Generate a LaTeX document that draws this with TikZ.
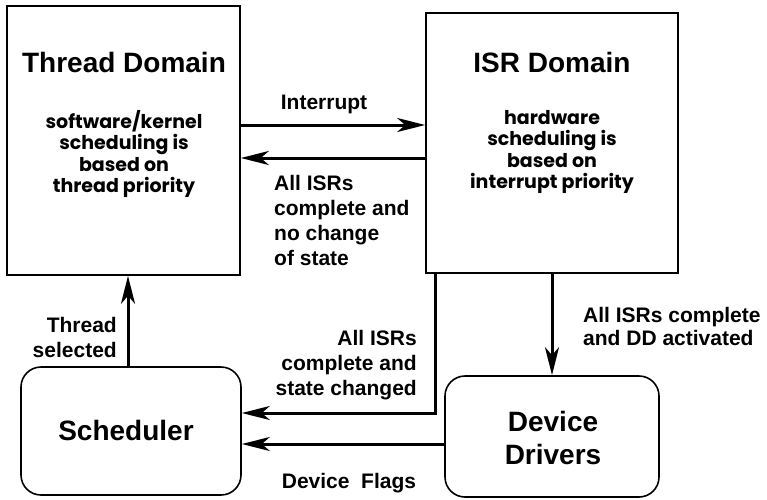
\documentclass[tikz,border=0pt]{standalone}
\usepackage{fontspec}
\setmainfont{Liberation Sans}
\newfontfamily\geo{Poppins}
\usetikzlibrary{arrows.meta}
\begin{document}
\begin{tikzpicture}[x=1pt,y=-1pt,
  sqbox/.style={draw, line width=1.6pt, inner sep=0pt},
  rbox/.style={draw, line width=1.6pt, rounded corners=20pt, inner sep=0pt},
  title/.style={font=\fontsize{28}{33}\selectfont\bfseries, align=center, inner sep=0pt},
  desc/.style={font=\geo\fontsize{19}{21.5}\selectfont\bfseries, align=center, inner sep=0pt},
  lbl/.style={font=\fontsize{21}{25}\selectfont\bfseries, inner sep=0pt},
  arr/.style={line width=3pt, -{Stealth[length=28pt,width=14pt,inset=8pt]}}
]
\useasboundingbox (0,0) rectangle (767,499);
% boxes
\node[sqbox, minimum width=233pt, minimum height=269pt] (td) at (123.5,140.5) {};
\node[sqbox, minimum width=252pt, minimum height=260pt] (isr) at (552,143) {};
\node[rbox, minimum width=220pt, minimum height=128pt] (sched) at (131,431) {};
\node[rbox, minimum width=214pt, minimum height=121pt] (dd) at (552,436.5) {};
% box texts
\node[title] (tdt) at (124,62) {Thread Domain};
\node[desc] (tdd) at (124,154) {software/kernel\\scheduling is\\based on\\thread priority};
\node[title] (isrt) at (552,62) {ISR Domain};
\node[desc] (isrd) at (552,152) {hardware\\scheduling is\\based on\\interrupt priority};
\node[title] (scht) at (126,430) {Scheduler};
\node[title] (ddt) at (553,438) {Device\\Drivers};
% connectors
\draw[arr] (td.east |- 0,125) -- (isr.west |- 0,125);
\draw[arr] (isr.west |- 0,158) -- (td.east |- 0,158);
\draw[arr] (sched.north -| 128,0) -- (td.south -| 128,0);
\draw[arr] (isr.south -| 435,0) |- (sched.east |- 0,413);
\draw[arr] (isr.south -| 552,0) -- (dd.north);
\draw[arr] (dd.west |- 0,444) -- (sched.east |- 0,444);
% labels
\node[lbl] (l1) at (324,104) {Interrupt};
\node[lbl, align=left, anchor=west] (l2) at (274,220) {All ISRs\\complete and\\no change\\of state};
\node[lbl, align=right, anchor=east] (l3) at (117,337) {Thread\\selected};
\node[lbl, align=right, anchor=east] (l4) at (417,365) {All ISRs\\complete and\\state changed};
\node[lbl] (l5) at (349,483) {Device\ \ Flags};
\node[lbl, font=\fontsize{21}{23}\selectfont\bfseries, align=left, anchor=west] (l6) at (583,326) {All ISRs complete\\and DD activated};
\end{tikzpicture}
\end{document}
